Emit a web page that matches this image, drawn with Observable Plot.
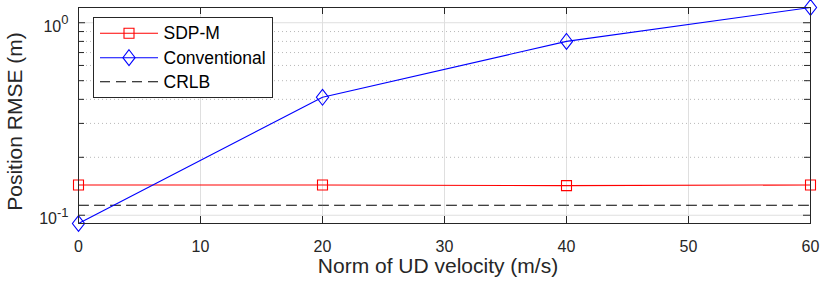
<!DOCTYPE html>
<html><head><meta charset="utf-8">
<script src="https://cdn.jsdelivr.net/npm/d3@7"></script>
<script src="https://cdn.jsdelivr.net/npm/@observablehq/plot@0.6"></script>
<style>
body{margin:0;background:#fff}
svg{display:block}
</style>
</head><body><div id="chart"></div>
<script>
// ---- data ----
const velocities = [0, 20, 40, 60];
const sdpM = [0.1437, 0.1437, 0.1425, 0.1437];
const conventional = [0.0906, 0.410, 0.800, 1.20];
const crlb = [0.1127, 0.1127, 0.1127, 0.1127];
const seriesNames = ["SDP-M", "Conventional", "CRLB"];
const xTicks = [0, 10, 20, 30, 40, 50, 60];
const yMajor = [0.1, 1];
const yMinor = [0.2, 0.3, 0.4, 0.5, 0.6, 0.7, 0.8, 0.9];
const xLabel = "Norm of UD velocity (m/s)";
const yLabel = "Position RMSE (m)";

// ---- helpers ----
const font = "'Liberation Sans', Arial, Helvetica, sans-serif";
const axisColor = "#262626";
const W = 822, H = 282, mL = 78, mR = 12, mT = 7, mB = 59;
const fw = W - mL - mR, fh = H - mT - mB;

const squareSym = {draw(ctx, size){ const r = Math.sqrt(size/Math.PI); ctx.moveTo(-r,-r); ctx.lineTo(r,-r); ctx.lineTo(r,r); ctx.lineTo(-r,r); ctx.closePath(); }};
const diamondSym = {draw(ctx, size){ const r = Math.sqrt(size/Math.PI); const h = r*1.3; ctx.moveTo(0,-h); ctx.lineTo(r,0); ctx.lineTo(0,h); ctx.lineTo(-r,0); ctx.closePath(); }};

const rows = (vals, name) => velocities.map((v, i) => ({x: v, y: vals[i], s: name}));
const dSdp = rows(sdpM, seriesNames[0]);
const dConv = rows(conventional, seriesNames[1]);
const dCrlb = rows(crlb, seriesNames[2]);

const styles = {
  [seriesNames[0]]: {color: "#ff0000", symbol: squareSym, r: 5},
  [seriesNames[1]]: {color: "#0000ff", symbol: diamondSym, r: 6.1},
  [seriesNames[2]]: {color: "#000000", dash: "10,6"}
};

const chart = Plot.plot({
  width: W, height: H,
  marginLeft: mL, marginRight: mR, marginTop: mT, marginBottom: mB,
  style: {fontFamily: font, color: axisColor, background: "#fff"},
  x: {domain: [0, 60]},
  y: {type: "log", domain: [0.0906, 1.2]},
  marks: [
    Plot.ruleX(xTicks.slice(1, -1), {stroke: "#dfdfdf", strokeWidth: 1}),
    Plot.ruleY(yMinor, {stroke: "#b8b8b8", strokeWidth: 1, strokeDasharray: "1,3"}),
    Plot.ruleY(yMajor, {stroke: "#dfdfdf", strokeWidth: 1}),
    Plot.tickX(xTicks, {x: d => d, stroke: axisColor, insetTop: fh - 7}),
    Plot.tickX(xTicks, {x: d => d, stroke: axisColor, insetBottom: fh - 7}),
    Plot.tickY(yMajor, {y: d => d, stroke: axisColor, insetRight: fw - 7}),
    Plot.tickY(yMajor, {y: d => d, stroke: axisColor, insetLeft: fw - 7}),
    Plot.tickY(yMinor, {y: d => d, stroke: axisColor, insetRight: fw - 6}),
    Plot.tickY(yMinor, {y: d => d, stroke: axisColor, insetLeft: fw - 6}),
    Plot.line(dCrlb, {x: "x", y: "y", stroke: styles.CRLB.color, strokeWidth: 1, strokeDasharray: styles.CRLB.dash}),
    Plot.line(dSdp, {x: "x", y: "y", stroke: styles["SDP-M"].color, strokeWidth: 1.1}),
    Plot.line(dConv, {x: "x", y: "y", stroke: styles.Conventional.color, strokeWidth: 1.1}),
    Plot.dot(dSdp, {x: "x", y: "y", stroke: styles["SDP-M"].color, fill: "none", symbol: squareSym, r: styles["SDP-M"].r, strokeWidth: 1.1}),
    Plot.dot(dConv, {x: "x", y: "y", stroke: styles.Conventional.color, fill: "none", symbol: diamondSym, r: styles.Conventional.r, strokeWidth: 1.1}),
    Plot.frame({stroke: axisColor, strokeWidth: 1}),
    Plot.axisX(xTicks, {tickSize: 0, tickPadding: 17, fontSize: 16, label: null, fill: axisColor}),
    Plot.axisY(yMajor, {tickSize: 0, tickPadding: 10, fontSize: 16, label: null, dy: 4, fill: axisColor,
      tickFormat: d => "10^" + Math.round(Math.log10(d))})
  ]
});

const svg = d3.select(chart);
// superscript exponents on the log tick labels
svg.selectAll('g[aria-label="y-axis tick label"] text').each(function() {
  const t = d3.select(this);
  const parts = t.text().split("^");
  t.text(null);
  t.append("tspan").text(parts[0]);
  t.append("tspan").attr("dy", -7.7).attr("font-size", 13).text(parts[1]);
});

// axis titles
svg.append("text")
  .attr("x", 438).attr("y", 273)
  .attr("text-anchor", "middle")
  .attr("font-family", font).attr("font-size", 21).attr("fill", axisColor)
  .text(xLabel);
svg.append("text")
  .attr("transform", "translate(22,121.5) rotate(-90)")
  .attr("text-anchor", "middle")
  .attr("font-family", font).attr("font-size", 21).attr("fill", axisColor)
  .text(yLabel);

// legend
const lg = svg.append("g").attr("font-family", font).attr("font-size", 17.5)
  .attr("fill", "#000").attr("text-anchor", "start");
lg.append("rect").attr("x", 93.5).attr("y", 17.5).attr("width", 179).attr("height", 80)
  .attr("fill", "#fff").attr("stroke", axisColor).attr("stroke-width", 1);
const rowY = [33.3, 57.7, 81.7];
seriesNames.forEach((name, i) => {
  const st = styles[name];
  const y = rowY[i];
  lg.append("line").attr("x1", 100).attr("x2", 158).attr("y1", y).attr("y2", y)
    .attr("stroke", st.color).attr("stroke-width", 1.1)
    .attr("stroke-dasharray", st.dash || null);
  if (st.symbol) {
    lg.append("path").attr("transform", `translate(129,${y})`)
      .attr("d", d3.symbol(st.symbol, Math.PI * st.r * st.r)())
      .attr("fill", "none").attr("stroke", st.color).attr("stroke-width", 1.1);
  }
  lg.append("text").attr("x", 163.5).attr("y", y).attr("dy", "0.35em")
    .attr("text-anchor", "start").text(name);
});

document.getElementById("chart").appendChild(chart);
</script>
</body></html>
